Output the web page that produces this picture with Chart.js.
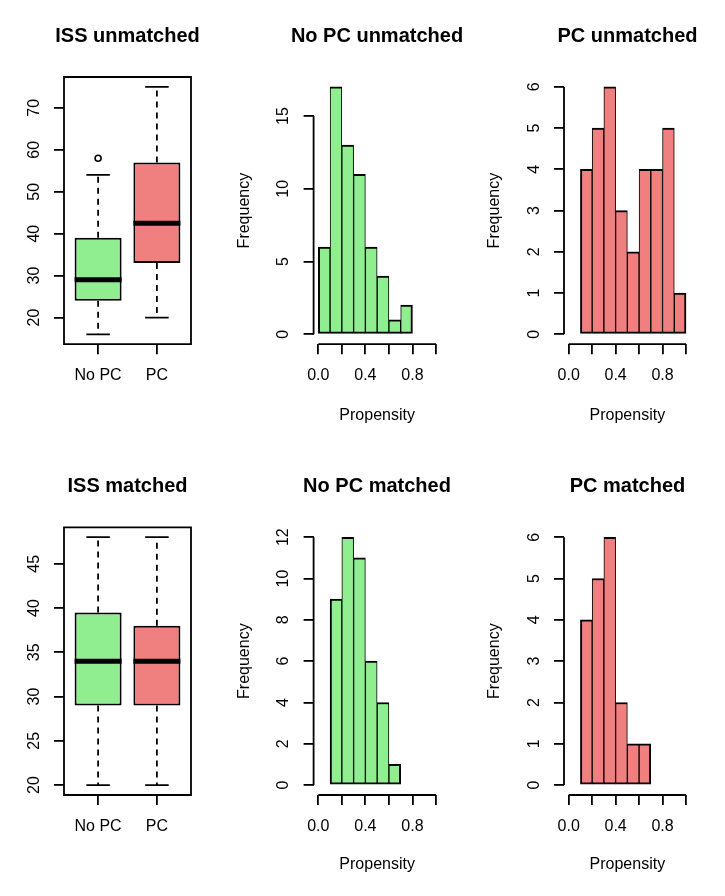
<!DOCTYPE html>
<html>
<head>
<meta charset="utf-8">
<title>ISS and propensity, unmatched and matched</title>
<script src="https://cdn.jsdelivr.net/npm/chart.js@4.4.1/dist/chart.umd.min.js"></script>
<style>
    html, body { margin: 0; padding: 0; background: #fff; }
    #figure { position: relative; width: 725px; height: 896px; overflow: hidden; }
    #figure canvas { position: absolute; }
</style>
</head>
<body>
<div id="figure"></div>
<script>
// Groups compared in the box plots
var groups = ['No PC', 'PC'];

// ISS box plots, unmatched (five-number summaries)
var issUnmatchedLow = [16, 20];
var issUnmatchedQ1 = [24, 33];
var issUnmatchedMedian = [29, 42.5];
var issUnmatchedQ3 = [39, 57];
var issUnmatchedHigh = [54, 75];
var issUnmatchedOutliers = [[58], []];
var issUnmatchedTicks = [20, 30, 40, 50, 60, 70];

// ISS box plots, matched
var issMatchedLow = [20, 20];
var issMatchedQ1 = [29, 29];
var issMatchedMedian = [34, 34];
var issMatchedQ3 = [39.5, 38];
var issMatchedHigh = [48, 48];
var issMatchedOutliers = [[], []];
var issMatchedTicks = [20, 25, 30, 35, 40, 45];

// Propensity histograms (lower bin edges, bin width 0.1)
var binWidth = 0.1;
var noPcUnmatchedBins = [0.0, 0.1, 0.2, 0.3, 0.4, 0.5, 0.6, 0.7];
var noPcUnmatchedCounts = [6, 17, 13, 11, 6, 4, 1, 2];
var noPcUnmatchedTicks = [0, 5, 10, 15];

var pcUnmatchedBins = [0.1, 0.2, 0.3, 0.4, 0.5, 0.6, 0.7, 0.8, 0.9];
var pcUnmatchedCounts = [4, 5, 6, 3, 2, 4, 4, 5, 1];
var pcUnmatchedTicks = [0, 1, 2, 3, 4, 5, 6];

var noPcMatchedBins = [0.1, 0.2, 0.3, 0.4, 0.5, 0.6];
var noPcMatchedCounts = [9, 12, 11, 6, 4, 1];
var noPcMatchedTicks = [0, 2, 4, 6, 8, 10, 12];

var pcMatchedBins = [0.1, 0.2, 0.3, 0.4, 0.5, 0.6];
var pcMatchedCounts = [4, 5, 6, 2, 1, 1];
var pcMatchedTicks = [0, 1, 2, 3, 4, 5, 6];

var propensityLimits = [0, 1];
var propensityTicks = [0, 0.2, 0.4, 0.6, 0.8, 1.0];
var propensityTickLabels = ['0.0', '', '0.4', '', '0.8', ''];

(function () {
    'use strict';

    var FONT = '"Liberation Sans", Arial, Helvetica, sans-serif';
    var INK = '#000000';
    var GREEN = '#90ee90';   // R "lightgreen"
    var RED = '#f08080';     // R "lightcoral"
    var LW = 1.8;
    var TICK_LEN = 10;
    var TICK_SIZE = 16;
    var TITLE_SIZE = 20;
    var LINE_H = 1.2;
    var BOX_WEX = 0.8;
    var STAPLE = 0.4;
    var DASH = [6, 5];

    // Page geometry of the 2 x 3 figure. Each canvas is centred on its plot
    // region so the (full width) chart title lands over the plot.
    var canvasLefts = [0, 222, 470];
    var canvasRows = [{ top: 0, height: 448 }, { top: 448, height: 448 }];
    var plotCols = [
        { left: 64, right: 191, yTitleX: 0 },
        { left: 313.6, right: 440.7, yTitleX: 245 },
        { left: 564, right: 690.7, yTitleX: 494.5 }
    ];
    var plotRows = [
        { top: 77, bottom: 344.2, titleY: 36.5, xLabelY: 375.8, xTitleY: 415.5 },
        { top: 527.3, bottom: 795, titleY: 486.7, xLabelY: 826.2, xTitleY: 865 }
    ];
    var Y_LABEL_DIST = 29.8;

    Chart.defaults.font.family = FONT;
    Chart.defaults.color = INK;

    var measureCtx = document.createElement('canvas').getContext('2d');
    function textWidth(text, size) {
        measureCtx.font = size + 'px ' + FONT;
        return measureCtx.measureText(text).width;
    }

    // R style default limits: data range widened by 4% each side
    function widen(lo, hi) {
        var d = (hi - lo) * 0.04;
        return [lo - d, hi + d];
    }

    // R style axes: frame around box plots, axis lines only over the tick span for histograms
    var rAxesPlugin = {
        id: 'rAxes',
        afterDraw: function (chart, args, opts) {
            var ctx = chart.ctx;
            var a = chart.chartArea;
            var x = chart.scales.x;
            var y = chart.scales.y;
            ctx.save();
            ctx.strokeStyle = INK;
            ctx.lineWidth = LW;
            ctx.beginPath();
            if (opts.frame) {
                ctx.rect(a.left, a.top, a.right - a.left, a.bottom - a.top);
            } else {
                ctx.moveTo(x.getPixelForValue(x.ticks[0].value), a.bottom);
                ctx.lineTo(x.getPixelForValue(x.ticks[x.ticks.length - 1].value), a.bottom);
                ctx.moveTo(a.left, y.getPixelForValue(y.ticks[0].value));
                ctx.lineTo(a.left, y.getPixelForValue(y.ticks[y.ticks.length - 1].value));
            }
            ctx.stroke();
            ctx.restore();
        }
    };

    function tickGrid() {
        return {
            drawOnChartArea: false,
            drawTicks: true,
            tickLength: TICK_LEN,
            tickColor: INK,
            tickWidth: LW,
            lineWidth: LW,
            color: INK,
            offset: false
        };
    }

    function yScale(geo, ticks, range, title) {
        var widest = Math.max.apply(null, ticks.map(function (t) { return textWidth(String(t), TICK_SIZE); }));
        return {
            type: 'linear',
            position: 'left',
            min: range[0],
            max: range[1],
            beginAtZero: false,
            afterBuildTicks: function (scale) {
                scale.ticks = ticks.map(function (v) { return { value: v }; });
            },
            afterFit: function (scale) {
                scale.width = geo.plotLeft;
            },
            grid: tickGrid(),
            border: { display: false },
            ticks: {
                autoSkip: false,
                minRotation: 90,
                maxRotation: 90,
                crossAlign: 'center',
                padding: Y_LABEL_DIST - TICK_LEN - widest / 2,
                color: INK,
                font: { size: TICK_SIZE, lineHeight: LINE_H },
                callback: function (v) { return String(v); }
            },
            title: title ? {
                display: true,
                text: title,
                color: INK,
                font: { size: TICK_SIZE, lineHeight: LINE_H },
                padding: { top: geo.yTitleX - TICK_SIZE * LINE_H / 2, bottom: 0 }
            } : { display: false }
        };
    }

    function xScale(geo, ticks, labels, range, title) {
        return {
            type: 'linear',
            position: 'bottom',
            min: range[0],
            max: range[1],
            offset: false,
            afterBuildTicks: function (scale) {
                scale.ticks = ticks.map(function (v) { return { value: v }; });
            },
            afterFit: function (scale) {
                scale.height = geo.canvasH - geo.plotBottom;
            },
            grid: tickGrid(),
            border: { display: false },
            ticks: {
                autoSkip: false,
                minRotation: 0,
                maxRotation: 0,
                padding: geo.xLabelY - geo.plotBottom - TICK_LEN - TICK_SIZE * LINE_H / 2,
                color: INK,
                font: { size: TICK_SIZE, lineHeight: LINE_H },
                callback: function (v, i) { return labels[i]; }
            },
            title: title ? {
                display: true,
                text: title,
                color: INK,
                font: { size: TICK_SIZE, lineHeight: LINE_H },
                padding: { top: 0, bottom: geo.canvasH - geo.xTitleY - TICK_SIZE * LINE_H / 2 }
            } : { display: false }
        };
    }

    // Empty right-hand axis that only reserves the right margin of the figure cell
    function spacerScale(geo) {
        return {
            type: 'linear',
            position: 'right',
            display: true,
            grid: { display: false },
            border: { display: false },
            ticks: { display: false },
            afterFit: function (scale) {
                scale.width = geo.rightMargin;
            }
        };
    }

    function segment(from, to, width, dash, order) {
        return {
            type: 'line',
            data: [{ x: from[0], y: from[1] }, { x: to[0], y: to[1] }],
            borderColor: INK,
            borderWidth: width,
            borderDash: dash || [],
            borderCapStyle: 'butt',
            pointRadius: 0,
            fill: false,
            tension: 0,
            order: order
        };
    }

    function boxDatasets(low, q1, median, q3, high, outliers) {
        var sets = [{
            type: 'bar',
            data: groups.map(function (g, i) { return { x: i + 1, y: [q1[i], q3[i]] }; }),
            backgroundColor: [GREEN, RED],
            borderColor: INK,
            borderWidth: 2,
            borderSkipped: false,
            barPercentage: BOX_WEX,
            categoryPercentage: 1,
            order: 2
        }];
        groups.forEach(function (g, i) {
            var pos = i + 1;
            sets.push(segment([pos - BOX_WEX / 2, median[i]], [pos + BOX_WEX / 2, median[i]], 5, null, 0));
            sets.push(segment([pos, q3[i]], [pos, high[i]], LW, DASH, 3));
            sets.push(segment([pos, q1[i]], [pos, low[i]], LW, DASH, 3));
            sets.push(segment([pos - STAPLE / 2, high[i]], [pos + STAPLE / 2, high[i]], LW, null, 3));
            sets.push(segment([pos - STAPLE / 2, low[i]], [pos + STAPLE / 2, low[i]], LW, null, 3));
            if (outliers[i].length) {
                sets.push({
                    type: 'scatter',
                    data: outliers[i].map(function (v) { return { x: pos, y: v }; }),
                    pointStyle: 'circle',
                    pointRadius: 3,
                    borderColor: INK,
                    borderWidth: 1.6,
                    backgroundColor: 'rgba(0,0,0,0)',
                    order: 1
                });
            }
        });
        return sets;
    }

    function histDataset(bins, counts, color) {
        return [{
            type: 'bar',
            data: bins.map(function (b, i) { return { x: b + binWidth / 2, y: counts[i] }; }),
            backgroundColor: color,
            borderColor: INK,
            borderSkipped: false,
            borderWidth: function (ctx) {
                var last = bins.length - 1;
                return { top: 2, bottom: 2, left: ctx.dataIndex === 0 ? 2 : 1, right: ctx.dataIndex === last ? 2 : 1 };
            },
            barPercentage: 1,
            categoryPercentage: 1
        }];
    }

    function makePanel(id, col, row, title, datasets, scales, frame) {
        var left = canvasLefts[col], cr = canvasRows[row];
        var pc = plotCols[col], pr = plotRows[row];
        var width = Math.round(pc.left + pc.right - 2 * left);
        var canvas = document.createElement('canvas');
        canvas.id = id;
        canvas.width = width;
        canvas.height = cr.height;
        canvas.style.left = left + 'px';
        canvas.style.top = cr.top + 'px';
        document.getElementById('figure').appendChild(canvas);

        var titleH = TITLE_SIZE * LINE_H;
        var titleTop = pr.titleY - cr.top - titleH / 2;
        var geo = {
            canvasH: cr.height,
            plotLeft: pc.left - left,
            plotBottom: pr.bottom - cr.top,
            rightMargin: width - (pc.right - left),
            yTitleX: pc.yTitleX - left,
            xLabelY: pr.xLabelY - cr.top,
            xTitleY: pr.xTitleY - cr.top
        };
        var scaleSet = scales(geo);
        scaleSet.spacer = spacerScale(geo);

        return new Chart(canvas, {
            type: 'bar',
            data: { datasets: datasets },
            options: {
                responsive: false,
                maintainAspectRatio: false,
                animation: false,
                events: [],
                layout: { padding: 0 },
                scales: scaleSet,
                plugins: {
                    legend: { display: false },
                    tooltip: { enabled: false },
                    title: {
                        display: true,
                        text: title,
                        color: INK,
                        fullSize: true,
                        font: { size: TITLE_SIZE, weight: 'bold', lineHeight: LINE_H },
                        padding: { top: titleTop, bottom: pr.top - cr.top - titleH - titleTop }
                    },
                    rAxes: { frame: frame }
                }
            },
            plugins: [rAxesPlugin]
        });
    }

    function boxScales(ticks, low, high, outliers) {
        var all = low.concat(high);
        outliers.forEach(function (o) { all = all.concat(o); });
        var yRange = widen(Math.min.apply(null, all), Math.max.apply(null, all));
        var xRange = widen(0.5, groups.length + 0.5);
        var positions = groups.map(function (g, i) { return i + 1; });
        return function (geo) {
            return {
                x: xScale(geo, positions, groups, xRange, null),
                y: yScale(geo, ticks, yRange, null)
            };
        };
    }

    function histScales(ticks, counts) {
        var yRange = widen(0, Math.max.apply(null, counts));
        var xRange = widen(propensityLimits[0], propensityLimits[1]);
        return function (geo) {
            return {
                x: xScale(geo, propensityTicks, propensityTickLabels, xRange, 'Propensity'),
                y: yScale(geo, ticks, yRange, 'Frequency')
            };
        };
    }

    makePanel('issUnmatched', 0, 0, 'ISS unmatched',
        boxDatasets(issUnmatchedLow, issUnmatchedQ1, issUnmatchedMedian, issUnmatchedQ3, issUnmatchedHigh, issUnmatchedOutliers),
        boxScales(issUnmatchedTicks, issUnmatchedLow, issUnmatchedHigh, issUnmatchedOutliers), true);

    makePanel('noPcUnmatched', 1, 0, 'No PC unmatched',
        histDataset(noPcUnmatchedBins, noPcUnmatchedCounts, GREEN),
        histScales(noPcUnmatchedTicks, noPcUnmatchedCounts), false);

    makePanel('pcUnmatched', 2, 0, 'PC unmatched',
        histDataset(pcUnmatchedBins, pcUnmatchedCounts, RED),
        histScales(pcUnmatchedTicks, pcUnmatchedCounts), false);

    makePanel('issMatched', 0, 1, 'ISS matched',
        boxDatasets(issMatchedLow, issMatchedQ1, issMatchedMedian, issMatchedQ3, issMatchedHigh, issMatchedOutliers),
        boxScales(issMatchedTicks, issMatchedLow, issMatchedHigh, issMatchedOutliers), true);

    makePanel('noPcMatched', 1, 1, 'No PC matched',
        histDataset(noPcMatchedBins, noPcMatchedCounts, GREEN),
        histScales(noPcMatchedTicks, noPcMatchedCounts), false);

    makePanel('pcMatched', 2, 1, 'PC matched',
        histDataset(pcMatchedBins, pcMatchedCounts, RED),
        histScales(pcMatchedTicks, pcMatchedCounts), false);
})();
</script>
</body>
</html>
